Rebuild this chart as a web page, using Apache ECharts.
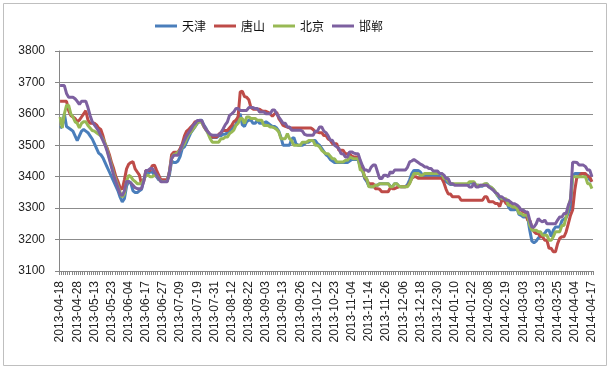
<!DOCTYPE html>
<html>
<head>
<meta charset="utf-8">
<script src="https://cdn.jsdelivr.net/npm/echarts@6/dist/echarts.min.js"></script>
<style>html,body{margin:0;padding:0;background:#fff}#c{width:611px;height:370px}</style>
</head>
<body>
<div id="c"></div>
<script>
const categories = [
'2013-04-18','2013-04-19','2013-04-22','2013-04-23','2013-04-24','2013-04-25','2013-04-26','2013-04-27','2013-04-28',
'2013-05-02','2013-05-03','2013-05-06','2013-05-07','2013-05-08','2013-05-09','2013-05-10','2013-05-13','2013-05-14','2013-05-15','2013-05-16','2013-05-17','2013-05-20','2013-05-21','2013-05-22','2013-05-23','2013-05-24','2013-05-27','2013-05-28','2013-05-29','2013-05-30','2013-05-31',
'2013-06-03','2013-06-04','2013-06-05','2013-06-06','2013-06-07','2013-06-08','2013-06-09','2013-06-13','2013-06-14','2013-06-17','2013-06-18','2013-06-19','2013-06-20','2013-06-21','2013-06-24','2013-06-25','2013-06-26','2013-06-27','2013-06-28',
'2013-07-01','2013-07-02','2013-07-03','2013-07-04','2013-07-05','2013-07-08','2013-07-09','2013-07-10','2013-07-11','2013-07-12','2013-07-15','2013-07-16','2013-07-17','2013-07-18','2013-07-19','2013-07-22','2013-07-23','2013-07-24','2013-07-25','2013-07-26','2013-07-29','2013-07-30','2013-07-31',
'2013-08-01','2013-08-02','2013-08-05','2013-08-06','2013-08-07','2013-08-08','2013-08-09','2013-08-12','2013-08-13','2013-08-14','2013-08-15','2013-08-16','2013-08-19','2013-08-20','2013-08-21','2013-08-22','2013-08-23','2013-08-26','2013-08-27','2013-08-28','2013-08-29','2013-08-30',
'2013-09-02','2013-09-03','2013-09-04','2013-09-05','2013-09-06','2013-09-09','2013-09-10','2013-09-11','2013-09-12','2013-09-13','2013-09-16','2013-09-17','2013-09-18','2013-09-22','2013-09-23','2013-09-24','2013-09-25','2013-09-26','2013-09-27','2013-09-29','2013-09-30',
'2013-10-08','2013-10-09','2013-10-10','2013-10-11','2013-10-12','2013-10-14','2013-10-15','2013-10-16','2013-10-17','2013-10-18','2013-10-21','2013-10-22','2013-10-23','2013-10-24','2013-10-25','2013-10-28','2013-10-29','2013-10-30','2013-10-31',
'2013-11-01','2013-11-04','2013-11-05','2013-11-06','2013-11-07','2013-11-08','2013-11-11','2013-11-12','2013-11-13','2013-11-14','2013-11-15','2013-11-18','2013-11-19','2013-11-20','2013-11-21','2013-11-22','2013-11-25','2013-11-26','2013-11-27','2013-11-28','2013-11-29',
'2013-12-02','2013-12-03','2013-12-04','2013-12-05','2013-12-06','2013-12-09','2013-12-10','2013-12-11','2013-12-12','2013-12-13','2013-12-16','2013-12-17','2013-12-18','2013-12-19','2013-12-20','2013-12-23','2013-12-24','2013-12-25','2013-12-26','2013-12-27','2013-12-30','2013-12-31',
'2014-01-02','2014-01-03','2014-01-06','2014-01-07','2014-01-08','2014-01-09','2014-01-10','2014-01-13','2014-01-14','2014-01-15','2014-01-16','2014-01-17','2014-01-20','2014-01-21','2014-01-22','2014-01-23','2014-01-24','2014-01-26','2014-01-27','2014-01-28','2014-01-29',
'2014-02-07','2014-02-08','2014-02-10','2014-02-11','2014-02-12','2014-02-13','2014-02-14','2014-02-17','2014-02-18','2014-02-19','2014-02-20','2014-02-21','2014-02-24','2014-02-25','2014-02-26','2014-02-27','2014-02-28',
'2014-03-03','2014-03-04','2014-03-05','2014-03-06','2014-03-07','2014-03-10','2014-03-11','2014-03-12','2014-03-13','2014-03-14','2014-03-17','2014-03-18','2014-03-19','2014-03-20','2014-03-21','2014-03-24','2014-03-25','2014-03-26','2014-03-27','2014-03-28','2014-03-31',
'2014-04-01','2014-04-02','2014-04-03','2014-04-04','2014-04-08','2014-04-09','2014-04-10','2014-04-11','2014-04-14','2014-04-15','2014-04-16','2014-04-17'
];

const seriesNames = ['天津', '唐山', '北京', '邯郸'];

const tianjin = [
3555,3560,3600,3560,3555,3550,3545,3530,3515,3530,
3545,3550,3545,3540,3530,3520,3505,3490,3475,3470,
3460,3445,3430,3415,3400,3385,3370,3355,3335,3320,
3330,3370,3385,3380,3355,3350,3350,3355,3360,3390,
3405,3410,3415,3415,3405,3400,3390,3390,3385,3385,
3390,3405,3450,3445,3445,3450,3465,3490,3495,3510,
3525,3540,3550,3560,3570,3580,3580,3565,3555,3540,
3530,3525,3525,3525,3530,3530,3535,3535,3540,3545,
3550,3560,3565,3590,3600,3565,3560,3575,3580,3580,
3570,3570,3580,3570,3570,3570,3575,3570,3565,3560,
3560,3555,3545,3525,3500,3500,3500,3500,3520,3525,
3505,3500,3500,3500,3505,3510,3510,3515,3515,3515,
3505,3500,3490,3480,3470,3465,3455,3450,3445,3445,
3445,3445,3445,3445,3445,3450,3455,3455,3455,3455,
3430,3420,3395,3385,3370,3368,3368,3373,3373,3378,
3378,3378,3378,3378,3370,3368,3378,3378,3370,3368,
3368,3368,3375,3390,3410,3420,3420,3420,3415,3405,
3405,3405,3405,3405,3405,3405,3405,3400,3400,3390,
3385,3380,3375,3375,3375,3375,3375,3375,3375,3375,
3375,3380,3380,3380,3373,3373,3370,3370,3375,3378,
3370,3365,3360,3350,3340,3330,3325,3325,3325,3305,
3295,3295,3295,3300,3280,3277,3272,3272,3272,3230,
3195,3190,3195,3205,3210,3215,3220,3230,3230,3210,
3230,3240,3240,3240,3260,3265,3270,3285,3300,3400,
3410,3410,3410,3410,3410,3405,3405,3390,3385
];

const tangshan = [
3640,3640,3640,3640,3610,3595,3590,3585,3575,3580,
3590,3600,3610,3580,3570,3570,3570,3565,3555,3550,
3530,3505,3490,3470,3445,3425,3400,3385,3365,3360,
3390,3425,3440,3445,3448,3425,3415,3405,3375,3385,
3420,3420,3420,3435,3437,3420,3405,3390,3390,3390,
3390,3415,3470,3478,3478,3478,3490,3505,3530,3545,
3550,3558,3565,3575,3575,3575,3575,3560,3550,3542,
3530,3526,3526,3526,3535,3540,3547,3547,3547,3555,
3563,3575,3580,3590,3670,3672,3655,3653,3645,3620,
3615,3615,3615,3615,3610,3608,3608,3605,3600,3592,
3600,3605,3585,3575,3563,3560,3558,3555,3555,3555,
3555,3555,3555,3555,3555,3555,3555,3555,3550,3542,
3542,3540,3540,3531,3531,3520,3516,3505,3505,3505,
3484,3484,3484,3473,3473,3473,3465,3463,3463,3463,
3435,3425,3400,3390,3378,3378,3378,3362,3362,3360,
3352,3352,3352,3352,3365,3362,3362,3365,3368,3368,
3368,3368,3370,3380,3395,3400,3400,3395,3395,3395,
3395,3395,3395,3395,3395,3395,3395,3395,3395,3380,
3360,3345,3345,3336,3336,3336,3336,3325,3325,3325,
3325,3325,3325,3325,3325,3325,3325,3325,3336,3336,
3320,3320,3320,3315,3315,3305,3325,3325,3314,3314,
3314,3304,3304,3300,3294,3294,3288,3288,3262,3262,
3240,3225,3219,3219,3209,3209,3198,3198,3172,3172,
3161,3161,3187,3204,3209,3209,3225,3251,3277,3294,
3357,3400,3400,3410,3410,3410,3400,3400,3384
];

const beijing = [
3590,3555,3600,3627,3627,3600,3590,3575,3570,3555,
3570,3575,3575,3563,3555,3547,3545,3540,3535,3530,
3520,3505,3485,3460,3435,3410,3390,3370,3350,3335,
3345,3385,3405,3400,3390,3385,3378,3378,3378,3390,
3405,3405,3400,3400,3405,3405,3395,3385,3385,3385,
3385,3416,3457,3470,3473,3478,3484,3495,3505,3521,
3535,3542,3552,3560,3574,3574,3574,3560,3550,3537,
3521,3510,3510,3510,3510,3521,3521,3526,3526,3537,
3542,3548,3563,3570,3585,3585,3569,3590,3590,3585,
3585,3585,3580,3580,3580,3563,3563,3563,3558,3558,
3555,3550,3542,3521,3521,3521,3537,3521,3515,3500,
3500,3500,3500,3510,3510,3510,3515,3515,3515,3500,
3500,3495,3484,3478,3473,3473,3465,3457,3457,3447,
3447,3447,3447,3452,3452,3463,3460,3457,3457,3457,
3421,3421,3400,3394,3368,3368,3368,3373,3373,3378,
3378,3378,3378,3378,3368,3368,3378,3378,3370,3368,
3368,3368,3368,3378,3395,3410,3410,3410,3405,3405,
3410,3410,3410,3410,3410,3410,3410,3410,3410,3394,
3394,3385,3378,3378,3378,3378,3378,3378,3378,3378,
3378,3384,3384,3384,3373,3373,3373,3373,3378,3378,
3367,3367,3360,3352,3340,3336,3330,3330,3330,3309,
3309,3304,3304,3300,3283,3283,3277,3277,3277,3245,
3230,3230,3230,3225,3225,3214,3214,3214,3198,3198,
3209,3225,3225,3225,3245,3245,3272,3304,3330,3400,
3400,3400,3400,3400,3400,3400,3378,3378,3362
];

const handan = [
3690,3690,3690,3665,3653,3653,3653,3648,3640,3630,
3640,3640,3640,3620,3595,3575,3565,3555,3545,3530,
3515,3500,3480,3455,3430,3405,3385,3365,3345,3340,
3355,3385,3385,3380,3373,3365,3362,3362,3362,3385,
3420,3420,3426,3426,3416,3405,3395,3384,3384,3384,
3384,3416,3457,3468,3468,3468,3485,3500,3516,3530,
3540,3550,3563,3570,3579,3579,3579,3563,3550,3542,
3535,3532,3532,3532,3532,3540,3552,3565,3574,3595,
3600,3606,3617,3617,3611,3611,3611,3611,3620,3620,
3620,3617,3617,3606,3606,3606,3600,3600,3600,3612,
3612,3600,3590,3580,3570,3570,3558,3558,3548,3548,
3548,3548,3548,3545,3535,3532,3532,3532,3532,3545,
3545,3558,3558,3545,3540,3530,3516,3516,3500,3495,
3490,3473,3473,3463,3463,3479,3479,3475,3473,3473,
3452,3435,3421,3421,3416,3430,3437,3437,3416,3394,
3394,3405,3405,3400,3416,3411,3421,3421,3421,3421,
3421,3421,3430,3447,3450,3455,3450,3445,3440,3437,
3431,3431,3426,3426,3418,3418,3418,3410,3410,3405,
3394,3394,3378,3378,3373,3373,3373,3373,3373,3373,
3373,3367,3367,3380,3367,3367,3373,3373,3373,3373,
3367,3362,3357,3350,3346,3336,3336,3330,3325,3325,
3320,3314,3314,3310,3304,3294,3294,3288,3288,3262,
3240,3240,3250,3267,3260,3256,3262,3250,3250,3250,
3250,3250,3262,3272,3272,3283,3283,3309,3325,3446,
3446,3445,3437,3437,3437,3432,3421,3421,3400
];

const seriesData = [tianjin, tangshan, beijing, handan];
const colors = ['#4a7ebb', '#be4b48', '#98b954', '#7d60a0'];

const chart = echarts.init(document.getElementById('c'), null, {renderer: 'canvas'});
chart.setOption({
  animation: false,
  backgroundColor: '#ffffff',
  color: colors,
  graphic: [{
    type: 'rect',
    shape: {x: 3.5, y: 3.5, width: 603, height: 362},
    style: {fill: 'none', stroke: '#bfbfbf', lineWidth: 1},
    silent: true
  }],
  legend: {
    left: 150,
    top: 15,
    itemWidth: 22,
    itemHeight: 3,
    itemGap: 8,
    icon: 'rect',
    data: seriesNames,
    textStyle: {fontFamily: 'Noto Sans CJK SC', fontSize: 12, color: '#111'}
  },
  grid: {left: 59, right: 18, top: 51, bottom: 99, containLabel: false},
  xAxis: {
    type: 'category',
    data: categories,
    boundaryGap: true,
    axisLine: {show: true, lineStyle: {color: '#868686', width: 1}},
    axisTick: {show: true, interval: 0, length: 4, lineStyle: {color: '#868686'}},
    axisLabel: {
      interval: 7,
      rotate: 90,
      margin: 10,
      fontFamily: 'Liberation Sans',
      fontSize: 12,
      color: '#222'
    },
    splitLine: {show: false}
  },
  yAxis: {
    type: 'value',
    min: 3100,
    max: 3800,
    interval: 100,
    axisLine: {show: true, lineStyle: {color: '#868686', width: 1}},
    axisTick: {show: true, length: 4, lineStyle: {color: '#868686'}},
    axisLabel: {margin: 14, fontFamily: 'Liberation Sans', fontSize: 12, color: '#222', formatter: v => String(v)},
    splitLine: {show: true, lineStyle: {color: '#8c8c8c', width: 1}}
  },
  series: seriesNames.map((name, i) => ({
    name: name,
    type: 'line',
    data: seriesData[i],
    symbol: 'none',
    smooth: false,
    lineStyle: {width: 3, color: colors[i]},
    itemStyle: {color: colors[i]}
  }))
});
</script>
</body>
</html>
